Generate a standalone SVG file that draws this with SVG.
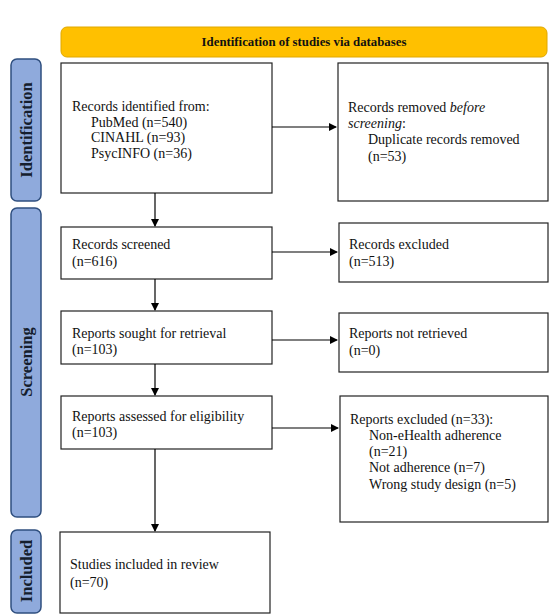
<svg xmlns="http://www.w3.org/2000/svg" width="552" height="616" viewBox="0 0 552 616">
<defs>
<marker id="ah" markerWidth="8" markerHeight="8" refX="7" refY="4" orient="auto" markerUnits="userSpaceOnUse">
<path d="M0,0 L8,4 L0,8 Z" fill="#000"/>
</marker>
<style>
.box{fill:#fff;stroke:#222;stroke-width:1.2}
.t{font-family:"Liberation Serif","Times New Roman",serif;font-size:14px;fill:#111}
.side{fill:#8FAADC;stroke:#2F4F7F;stroke-width:1.5}
.st{font-family:"Liberation Serif","Times New Roman",serif;font-size:16.5px;font-weight:bold;fill:#151e2e}
.c{stroke:#000;stroke-width:1.2;fill:none;marker-end:url(#ah)}
</style>
</defs>
<rect width="552" height="616" fill="#fff"/>
<g id="header">
<rect x="61" y="27" width="486" height="30" rx="6" fill="#FFC000" stroke="#E0A800" stroke-width="1"/>
<text x="304" y="46" text-anchor="middle" font-family="Liberation Serif,serif" font-size="12.8px" font-weight="bold" fill="#111">Identification of studies via databases</text>
</g>
<g id="lbl-identification">
<rect class="side" x="11" y="59" width="30" height="142" rx="6"/>
<text class="st" transform="translate(32,130) rotate(-90)" text-anchor="middle">Identification</text>
</g>
<g id="lbl-screening">
<rect class="side" x="11" y="208" width="30" height="309" rx="6"/>
<text class="st" transform="translate(32,362) rotate(-90)" text-anchor="middle">Screening</text>
</g>
<g id="lbl-included">
<rect class="side" x="11" y="530" width="30" height="83" rx="6"/>
<text class="st" transform="translate(32,571) rotate(-90)" text-anchor="middle">Included</text>
</g>
<g id="n1">
<rect class="box" x="61" y="63" width="211" height="130"/>
<text class="t" x="72" y="111">Records identified from:</text>
<text class="t" x="91" y="127">PubMed (n=540)</text>
<text class="t" x="91" y="142">CINAHL (n=93)</text>
<text class="t" x="91" y="158">PsycINFO (n=36)</text>
</g>
<g id="n1r">
<rect class="box" x="338" y="63" width="210" height="138"/>
<text class="t" x="348" y="112">Records removed <tspan font-style="italic">before</tspan></text>
<text class="t" x="348" y="128"><tspan font-style="italic">screening</tspan>:</text>
<text class="t" x="368" y="144">Duplicate records removed</text>
<text class="t" x="368" y="161">(n=53)</text>
</g>
<g id="n2">
<rect class="box" x="61" y="227" width="211" height="52"/>
<text class="t" x="72" y="249">Records screened</text>
<text class="t" x="72" y="266">(n=616)</text>
</g>
<g id="n2r">
<rect class="box" x="339" y="223" width="209" height="59"/>
<text class="t" x="349" y="249">Records excluded</text>
<text class="t" x="349" y="266">(n=513)</text>
</g>
<g id="n3">
<rect class="box" x="61" y="311" width="211" height="53"/>
<text class="t" x="72" y="338">Reports sought for retrieval</text>
<text class="t" x="72" y="354">(n=103)</text>
</g>
<g id="n3r">
<rect class="box" x="339" y="313" width="209" height="59"/>
<text class="t" x="349" y="338">Reports not retrieved</text>
<text class="t" x="349" y="355">(n=0)</text>
</g>
<g id="n4">
<rect class="box" x="61" y="396" width="211" height="53"/>
<text class="t" x="72" y="421">Reports assessed for eligibility</text>
<text class="t" x="72" y="437">(n=103)</text>
</g>
<g id="n4r">
<rect class="box" x="340" y="396" width="208" height="126"/>
<text class="t" x="350" y="424">Reports excluded (n=33):</text>
<text class="t" x="369" y="440">Non-eHealth adherence</text>
<text class="t" x="369" y="456">(n=21)</text>
<text class="t" x="369" y="472">Not adherence (n=7)</text>
<text class="t" x="369" y="489">Wrong study design (n=5)</text>
</g>
<g id="n5">
<rect class="box" x="60" y="532" width="210" height="81"/>
<text class="t" x="70" y="569">Studies included in review</text>
<text class="t" x="70" y="587">(n=70)</text>
</g>
<g id="connectors">
<line class="c" x1="272" y1="127" x2="336" y2="127"/>
<line class="c" x1="155" y1="193" x2="155" y2="226"/>
<line class="c" x1="272" y1="252" x2="337" y2="252"/>
<line class="c" x1="155" y1="279" x2="155" y2="310"/>
<line class="c" x1="272" y1="340" x2="337" y2="340"/>
<line class="c" x1="155" y1="364" x2="155" y2="395"/>
<line class="c" x1="272" y1="428" x2="338" y2="428"/>
<line class="c" x1="155" y1="449" x2="155" y2="531"/>
</g>
</svg>
